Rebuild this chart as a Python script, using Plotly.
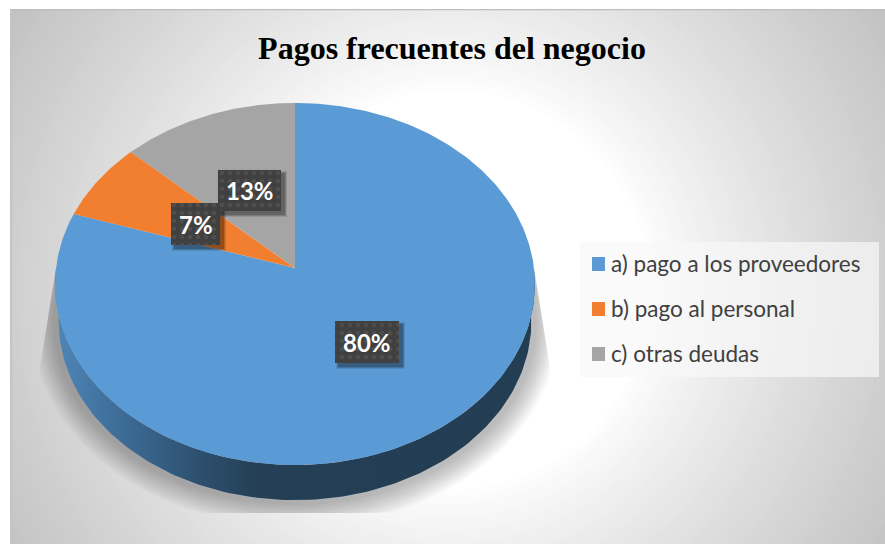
import numpy as np
import plotly.graph_objects as go

# ---- data ----
categories = ["a) pago a los proveedores", "b) pago al personal", "c) otras deudas"]
values = [80, 7, 13]
colors = ["#5B9BD5", "#F27F30", "#A5A5A5"]
title = "Pagos frecuentes del negocio"

# ---- view (pixel-like axes) and disc geometry ----
W, H, L, T = 885, 544, 10, 9
CX, CY, R, A, K = 295, 268, 239, 179.6, 0.0884
DEPTH, SHRINK = 38, 0.985
SHADOW_BOTTOM = 513


def project(theta, scale=1.0, dy=0.0):
    """theta in degrees, clockwise from 12 o'clock; perspective disc."""
    t = np.radians(theta)
    u, v = np.sin(t), np.cos(t)
    den = 1 + K * v
    return CX + scale * R * u / den, CY + dy - scale * A * v / den


def grey(v):
    v = int(round(v))
    return f"rgb({v},{v},{v})"


shapes = []
# radial background gradient
GX, GY = 450, 290
N = 90
RMAX = 600
for i in range(N):
    r = RMAX * (1 - i / N)
    t = max(0.0, (r - 200) / 340)
    c = max(188, 255 - 64 * t ** 0.85)
    shapes.append(dict(type="circle", xref="x", yref="y", layer="below",
                       x0=GX - r, x1=GX + r, y0=GY - r, y1=GY + r,
                       fillcolor=grey(c), line_width=0))

# thin chart border (left / top)
shapes.append(dict(type="line", xref="x", yref="y", layer="below", x0=L + 1, x1=L + 1, y0=T, y1=H,
                   line=dict(color="#c4c4c4", width=2)))
shapes.append(dict(type="line", xref="x", yref="y", layer="below", x0=L, x1=W, y0=T + 0.5, y1=T + 0.5,
                   line=dict(color="#bdbdbd", width=1.5)))

# soft floor shadow below the disc
for d in range(24, 0, -2):
    th = np.linspace(80, 280, 90)
    px, py = project(th, 1.0, DEPTH)
    t = np.radians(th)
    px = px + d * np.sin(t)
    py = py - d * np.cos(t)
    py = np.minimum(py, SHADOW_BOTTOM)
    left = 38 + (380 - np.minimum(py, 380)) * 0.16
    right = 552 - (380 - np.minimum(py, 380)) * 0.16
    px = np.clip(px, left, right)
    path = "M " + " L ".join(f"{a:.1f},{b:.1f}" for a, b in zip(px, py)) + " Z"
    shapes.append(dict(type="path", xref="x", yref="y", layer="below", path=path,
                       fillcolor="rgba(0,0,0,0.022)", line_width=0))

# legend panel
shapes.append(dict(type="rect", xref="x", yref="y", layer="below", x0=580, x1=879, y0=242, y1=377,
                   fillcolor="rgba(248,248,248,0.7)", line_width=0))

# legend swatches squared up to full height
for col, top in zip(colors, (257, 302, 347)):
    shapes.append(dict(type="rect", xref="x", yref="y", layer="above", x0=592, x1=605, y0=top, y1=top + 14,
                       fillcolor=col, line_width=0))

fig = go.Figure()

# side wall
th = np.linspace(90, 270, 140)
x1, y1 = project(th)
x2, y2 = project(th[::-1], SHRINK, DEPTH)
fig.add_trace(go.Scatter(
    x=np.r_[x1, x2], y=np.r_[y1, y2], mode="lines", fill="toself", line_width=0,
    fillgradient=dict(type="horizontal", start=55, stop=535,
                      colorscale=[[0, "#4F86B8"], [0.12, "#3F6F9B"], [0.3, "#2D506F"],
                                  [0.42, "#243F56"], [1, "#233D53"]]),
    hoverinfo="skip", showlegend=False))

# slices, clockwise from 12 o'clock
start = 0.0
total = sum(values)
for name, val, col in zip(categories, values, colors):
    sweep = 360.0 * val / total
    th = np.linspace(start, start + sweep, max(3, int(sweep * 1.5)))
    px, py = project(th)
    fig.add_trace(go.Scatter(
        x=np.r_[CX, px, CX], y=np.r_[CY, py, CY], mode="lines", fill="toself",
        line_width=0, fillcolor=col, name=name, legendgroup=name,
        showlegend=False, hoverinfo="name"))
    start += sweep

# data labels
label_boxes = [(335, 399, 321, 363), (171, 220, 203, 245), (218, 281, 170, 211)]
for val, (x0, x1_, y0, y1_) in zip(values, label_boxes):
    for g, alpha in ((6, 0.10), (4, 0.16), (2, 0.2)):
        fig.add_trace(go.Scatter(
            x=[x0 + 4 - g / 2, x1_ + 3 + g / 2, x1_ + 3 + g / 2, x0 + 4 - g / 2, x0 + 4 - g / 2],
            y=[y0 + 4 - g / 2, y0 + 4 - g / 2, y1_ + 3 + g / 2, y1_ + 3 + g / 2, y0 + 4 - g / 2],
            mode="lines", fill="toself", line_width=0, fillcolor=f"rgba(0,0,0,{alpha})",
            hoverinfo="skip", showlegend=False))
    fig.add_trace(go.Scatter(
        x=[x0, x1_, x1_, x0, x0], y=[y0, y0, y1_, y1_, y0],
        mode="lines", fill="toself", line_width=0, fillcolor="#404040",
        fillpattern=dict(shape=".", bgcolor="#404040", fgcolor="#5c5c5c", size=8, solidity=0.25),
        hoverinfo="skip", showlegend=False))
    fig.add_annotation(x=(x0 + x1_) / 2, y=(y0 + y1_) / 2, xref="x", yref="y", text=f"<b>{val}%</b>",
                       showarrow=False, font=dict(family="Lato", size=24, color="white"))

# legend entries: the dash draws a short block just before the text
for name, col in zip(categories, colors):
    fig.add_trace(go.Scatter(
        x=[None], y=[None], mode="lines", name=name, legendgroup=name,
        line=dict(color=col, width=13, dash="0px,16px,13px,100px"), hoverinfo="skip"))

fig.update_layout(
    width=W, height=H, autosize=False,
    margin=dict(l=L, r=0, t=T, b=0),
    paper_bgcolor="white", plot_bgcolor="white",
    xaxis=dict(range=[L, W], visible=False, fixedrange=True),
    yaxis=dict(range=[H, T], visible=False, fixedrange=True),
    shapes=shapes,
    title=dict(text=f"<b>{title}</b>", x=452 / W, xanchor="center", y=1 - 48 / H, yanchor="middle",
               font=dict(family="Liberation Serif", size=32, color="black")),
    legend=dict(x=(571 - L) / (W - L), y=1 - (242 - T) / (H - T), xanchor="left", yanchor="top",
                bgcolor="rgba(0,0,0,0)", font=dict(family="Lato", size=22.5, color="#404040"),
                itemwidth=30, tracegroupgap=13, entrywidth=265, entrywidthmode="pixels",
                itemclick=False, itemdoubleclick=False),
    showlegend=True,
)
fig.write_html("out.html", config={"displayModeBar": False},
               post_script="document.body.style.margin='0';")
